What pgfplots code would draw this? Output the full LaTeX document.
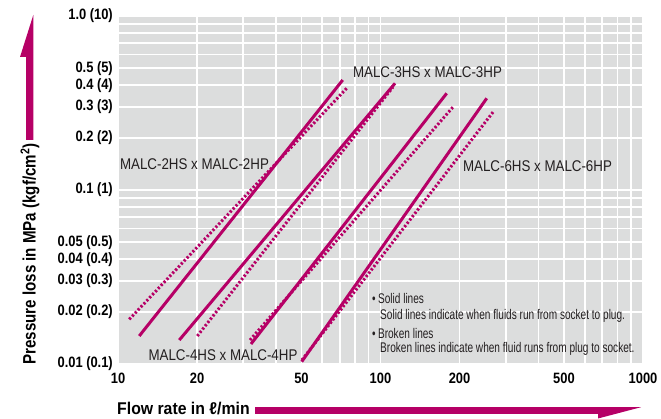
\documentclass[border=0pt]{standalone}
\usepackage{pgfplots}
\pgfplotsset{compat=1.18}
\usepackage{fontspec}
\setmainfont{Liberation Sans}
\newfontfamily\tickf{Liberation Sans}[FakeStretch=0.86]
\newfontfamily\labf{Liberation Sans}[FakeStretch=0.86]
\newfontfamily\legf{Liberation Sans}[FakeStretch=0.72]
\newfontfamily\axf{Liberation Sans}[FakeStretch=0.84]
\newfontfamily\axxf{Liberation Sans}[FakeStretch=0.93]
\definecolor{mag}{RGB}{182,0,102}
\definecolor{bggray}{RGB}{220,221,221}
\definecolor{txt}{RGB}{35,31,32}
\begin{document}
\begin{tikzpicture}[x=1pt,y=1pt]
\begin{axis}[
  at={(118pt,55pt)}, anchor=south west,
  width=525pt, height=348pt, scale only axis,
  xmode=log, ymode=log,
  xmin=10, xmax=1000, ymin=0.01, ymax=1,
  axis background/.style={fill=bggray},
  axis line style={draw=none},
  major tick length=0pt, minor tick length=0pt,
  xtick={10,20,50,100,200,500,1000},
  xticklabels={10,20,50,100,200,500,1000},
  minor xtick={30,40,60,70,80,90,300,400,600,700,800,900},
  ytick={0.01,0.02,0.03,0.04,0.05,0.1,0.2,0.3,0.4,0.5,1},
  yticklabels={0.01 (0.1),0.02 (0.2),0.03 (0.3),0.04 (0.4),0.05 (0.5),0.1 (1),0.2 (2),0.3 (3),0.4 (4),0.5 (5),1.0 (10)},
  minor ytick={0.06,0.07,0.08,0.09,0.6,0.7,0.8,0.9},
  grid=both,
  major grid style={white, line width=1.8pt},
  minor grid style={white, line width=1.8pt},
  xticklabel style={font=\tickf\bfseries\fontsize{15}{17}\selectfont, anchor=north, inner sep=0pt, yshift=-8.5pt},
  yticklabel style={font=\tickf\bfseries\fontsize{15}{17}\selectfont, anchor=east, inner sep=0pt, xshift=-5pt},
  clip=true,
]
% MALC-2HS x MALC-2HP
\addplot[mag, line width=3pt] coordinates {(12.05,0.01449) (71.8,0.4287)};
\addplot[mag, line width=3pt, dash pattern=on 2.2pt off 2pt] coordinates {(11.04,0.01806) (74.3,0.3842)};
% MALC-3HS x MALC-3HP
\addplot[mag, line width=3pt] coordinates {(17.12,0.01373) (113.6,0.4104)};
\addplot[mag, line width=3pt, dash pattern=on 2.2pt off 2pt] coordinates {(20.05,0.01449) (111.6,0.3908)};
% MALC-4HS x MALC-4HP
\addplot[mag, line width=3pt] coordinates {(32.11,0.01303) (178.7,0.3594)};
\addplot[mag, line width=3pt, dash pattern=on 2.2pt off 2pt] coordinates {(31.83,0.01373) (189.4,0.3012)};
% MALC-6HS x MALC-6HP
\addplot[mag, line width=3pt] coordinates {(50.1,0.01031) (253.9,0.3365)};
\addplot[mag, line width=3pt, dash pattern=on 2.2pt off 2pt] coordinates {(50.2,0.01054) (269.0,0.2818)};
\end{axis}
% series labels
\begin{scope}[every node/.style={txt, inner sep=0pt, font=\labf\fontsize{15.5}{17}\selectfont}]
\node at (194.5,255) {MALC-2HS x MALC-2HP};
\node at (427.5,346.5) {MALC-3HS x MALC-3HP};
\node at (537.5,253) {MALC-6HS x MALC-6HP};
\node at (223,64) {MALC-4HS x MALC-4HP};
\end{scope}
% legend notes
\begin{scope}[every node/.style={txt, inner sep=0pt, anchor=base west, font=\legf\fontsize{14}{16}\selectfont}]
\node at (372,115) {•\,Solid lines};
\node at (380,99) {Solid lines indicate when fluids run from socket to plug.};
\node at (372,80) {•\,Broken lines};
\node at (380,66) {Broken lines indicate when fluid runs from plug to socket.};
\end{scope}
% axis titles
\node[rotate=90, inner sep=0pt, font=\axf\bfseries\fontsize{18}{20}\selectfont, text=black] at (30,165) {Pressure loss in MPa (kgf/cm\textsuperscript{2})};
\node[anchor=base west, inner sep=0pt, font=\axxf\bfseries\fontsize{17}{19}\selectfont, text=black] at (117,4.7) {Flow rate in ℓ/min};
% arrows
\fill[mag] (26,279)--(33.3,279)--(33.3,404)--(20,362)--(26,362)--cycle;
\fill[mag] (255,11.8)--(641,11.8)--(598,0.5)--(598,5)--(255,5)--cycle;
\pgfresetboundingbox
\path[use as bounding box] (0,0) rectangle (661,419);
\end{tikzpicture}
\end{document}
